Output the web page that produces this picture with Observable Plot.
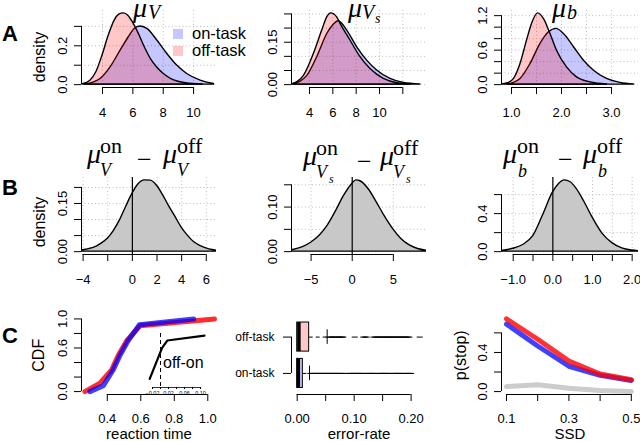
<!DOCTYPE html>
<html><head><meta charset="utf-8">
<script src="https://cdn.jsdelivr.net/npm/d3@7"></script>
<script src="https://cdn.jsdelivr.net/npm/@observablehq/plot@0.6"></script>
<style>
body{margin:0;background:#fff;}
#fig{position:relative;width:640px;height:441px;overflow:hidden;background:#fff;}
.panel{position:absolute;}
.ov{position:absolute;left:0;top:0;pointer-events:none;}
</style></head><body><div id="fig"></div>
<script>
const FONT = "'Liberation Sans', Arial, Helvetica, sans-serif";

// ---------- Row A: posterior densities ----------
const muV_on_x  = [2.85, 3.4, 3.87, 4.53, 5.19, 5.73, 6.06, 6.46, 6.95, 7.61, 8.27, 8.92, 9.58, 10.46, 11.34];
const muV_on_y  = [0.001, 0.01, 0.029, 0.089, 0.175, 0.244, 0.282, 0.299, 0.287, 0.227, 0.158, 0.098, 0.055, 0.021, 0.004];
const muV_off_x = [2.7, 3.2, 3.6, 4.0, 4.4, 4.8, 5.1, 5.4, 5.7, 6.0, 6.4, 6.8, 7.2, 7.6, 8.0, 8.5, 9.0, 9.5, 10.0, 10.6];
const muV_off_y = [0.002, 0.02, 0.065, 0.15, 0.25, 0.33, 0.36, 0.367, 0.355, 0.32, 0.26, 0.19, 0.13, 0.088, 0.057, 0.03, 0.015, 0.007, 0.003, 0.001];

const muVs_on_x  = [2.65, 3.2, 3.8, 4.66, 5.52, 6.08, 6.51, 7.23, 8.09, 8.94, 9.8, 10.94, 12.08, 13.5];
const muVs_on_y  = [0.002, 0.01, 0.03, 0.097, 0.179, 0.212, 0.224, 0.191, 0.132, 0.085, 0.05, 0.02, 0.006, 0.001];
const muVs_off_x = [2.52, 3.0, 3.51, 4.37, 5.09, 5.52, 5.86, 6.37, 6.66, 7.51, 8.37, 9.23, 10.37, 11.51, 12.65];
const muVs_off_y = [0.002, 0.01, 0.03, 0.108, 0.191, 0.238, 0.252, 0.238, 0.215, 0.156, 0.097, 0.055, 0.02, 0.005, 0.001];

const mub_on_x  = [0.91, 1.05, 1.18, 1.38, 1.58, 1.75, 1.9, 2.05, 2.25, 2.45, 2.65, 2.91, 3.18, 3.45];
const mub_on_y  = [0.005, 0.03, 0.099, 0.36, 0.71, 0.91, 0.97, 0.88, 0.65, 0.417, 0.243, 0.099, 0.03, 0.005];
const mub_off_x = [0.81, 0.95, 1.05, 1.18, 1.31, 1.41, 1.53, 1.65, 1.78, 1.91, 2.11, 2.31, 2.58, 2.91];
const mub_off_y = [0.005, 0.03, 0.099, 0.36, 0.765, 1.055, 1.24, 1.14, 0.88, 0.59, 0.3, 0.127, 0.04, 0.005];

// ---------- Row B: posterior of differences ----------
const dV_x  = [-4.1, -3.5, -3, -2.5, -2, -1.5, -1, -0.5, 0, 0.5, 1, 1.5, 2, 2.5, 3, 3.5, 4, 4.5, 5, 5.5, 6, 6.5, 6.9];
const dV_y  = [0.004, 0.008, 0.014, 0.025, 0.04, 0.065, 0.098, 0.14, 0.18, 0.21, 0.222, 0.221, 0.205, 0.175, 0.14, 0.108, 0.075, 0.05, 0.03, 0.018, 0.01, 0.005, 0.003];
const dVs_x = [-7.3, -6, -5, -4, -3, -2, -1, 0, 0.5, 1, 2, 3, 4, 5, 6, 7, 8, 9.1];
const dVs_y = [0.003, 0.01, 0.02, 0.035, 0.058, 0.09, 0.125, 0.152, 0.16, 0.158, 0.14, 0.11, 0.078, 0.05, 0.028, 0.014, 0.006, 0.002];
const db_x  = [-1.3, -1.0, -0.75, -0.5, -0.25, 0, 0.15, 0.3, 0.45, 0.6, 0.8, 1.0, 1.25, 1.5, 1.75, 2.0, 2.2];
const db_y  = [0.008, 0.03, 0.07, 0.16, 0.38, 0.62, 0.71, 0.75, 0.73, 0.66, 0.52, 0.36, 0.19, 0.09, 0.035, 0.012, 0.004];

// ---------- Row C ----------
const cdf_off_x = [0.266, 0.356, 0.426, 0.466, 0.516, 0.596, 1.04];
const cdf_off_y = [0, 0.116, 0.3, 0.5, 0.7, 0.906, 1.0];
const cdf_on_x  = [0.296, 0.376, 0.436, 0.476, 0.524, 0.592, 0.916];
const cdf_on_y  = [0, 0.08, 0.3, 0.5, 0.7, 0.92, 1.0];
const inset_x = [-0.027, 0.004, 0.017, 0.11];
const inset_y = [0.16, 0.735, 0.87, 0.96];

const box_groups = ["on-task", "off-task"];
const box_pos  = [1, 2];
const box_q1   = [0, 0];
const box_med  = [0.002, 0.003];
const box_q3   = [0.0099, 0.021];
const box_hi   = [0.0216, 0.0526];
const out_on  = [0.023,0.026,0.029,0.032,0.035,0.038,0.041,0.044,0.047,0.05,0.053,0.056,0.059,0.062,0.065,0.068,0.071,0.074,0.077,0.08,
                 0.086,0.092,0.095,0.098,0.101,0.104,0.107,0.11,0.113,0.116,0.122,0.125,0.128,0.131,0.134,0.137,0.143,0.146,0.149,
                 0.152,0.155,0.158,0.161,0.167,0.17,0.173,0.176,0.179,0.182,0.185,0.191,0.194,0.197,0.2];
const out_off = [0.055,0.058,0.061,0.064,0.067,0.07,0.073,0.076,0.079,0.081,0.101,0.116,0.119,0.122,0.134,0.137,0.14,0.143,0.146,
                 0.149,0.152,0.155,0.158,0.161,0.164,0.167,0.17,0.173,0.176,0.179,0.182,0.185,0.188,0.191,0.194,0.197,0.215];

const ssd        = [0.1, 0.2, 0.3, 0.4, 0.5];
const pstop_on   = [0.69, 0.466, 0.259, 0.166, 0.114];
const pstop_off  = [0.743, 0.535, 0.311, 0.179, 0.121];
const pstop_gray = [0.052, 0.069, 0.034, 0.01, 0.0];

// ---------- ticks ----------
const A1_xt = [4, 6, 8, 10],              A1_xl = [4, 6, 8, 10];
const A1_yt = [0, 0.1, 0.2, 0.3],         A1_yl = [0, 0.2];
const A2_xt = [4, 6, 8, 10, 12],          A2_xl = [4, 6, 8, 10];
const A2_yt = [0, 0.05, 0.1, 0.15, 0.2, 0.25], A2_yl = [0, 0.15];
const A3_xt = [1, 1.5, 2, 2.5, 3],        A3_xl = [1, 2, 3];
const A3_yt = [0, 0.2, 0.4, 0.6, 0.8, 1.0, 1.2], A3_yl = [0, 0.6, 1.2];
const B1_xt = [-4, -2, 0, 2, 4, 6],       B1_xl = [-4, 0, 2, 4, 6];
const B1_yt = [0, 0.05, 0.1, 0.15, 0.2],  B1_yl = [0, 0.15];
const B2_xt = [-5, 0, 5],                 B2_xl = [-5, 0, 5];
const B2_yt = [0, 0.05, 0.1, 0.15],       B2_yl = [0, 0.1];
const B3_xt = [-1, -0.5, 0, 0.5, 1, 1.5, 2], B3_xl = [-1, 0, 1, 2];
const B3_yt = [0, 0.2, 0.4, 0.6],         B3_yl = [0, 0.4];
const C1_xt = [0.4, 0.6, 0.8, 1.0],       C1_xl = [0.4, 0.6, 0.8, 1.0];
const C1_yt = [0, 0.2, 0.4, 0.6, 0.8, 1.0], C1_yl = [0, 0.6, 1.0];
const CI_xt = [-0.02, 0, 0.02, 0.04, 0.06, 0.08, 0.1], CI_xl = [-0.02, 0.02, 0.06, 0.1];
const C2_xt = [0, 0.05, 0.1, 0.15, 0.2],  C2_xl = [0, 0.1, 0.2];
const C3_xt = [0.1, 0.2, 0.3, 0.4, 0.5],  C3_xl = [0.1, 0.3, 0.5];
const C3_yt = [0, 0.2, 0.4, 0.6],         C3_yl = [0, 0.4];

// ---------- helpers ----------
const zip = (xs, ys) => xs.map((x, i) => ({x, y: ys[i]}));
const rPad = (lo, hi) => { const r = hi - lo; return [lo - 0.04 * r, hi + 0.04 * r]; };
const fmt = n => d => (d < -1e-12 ? "\u2212" : "") + Math.abs(d).toFixed(n);
const only = (labels, f) => d => labels.some(l => Math.abs(l - d) < 1e-9) ? f(d) : "";
const fig = document.getElementById("fig");

const COLS = [{left: 0, width: 220, mL: 81, mR: 4}, {left: 220, width: 210, mL: 71, mR: 4}, {left: 430, width: 210, mL: 71, mR: 2}];
const ROWS = [{top: 0, height: 125, mT: 10, mB: 38, pad: 13}, {top: 125, height: 165, mT: 52, mB: 36, pad: 13}, {top: 290, height: 151, mT: 25.5, mB: 47, pad: 12}];

function grid(xt, yt) {
  const o = {stroke: "#bdbdbd", strokeOpacity: 1, strokeDasharray: "1,2.5", strokeWidth: 1};
  return [Plot.gridX({ticks: xt, ...o}), Plot.gridY({ticks: yt, ...o})];
}
function axes(row, xDom, yDom, xt, xl, xd, yt, yl, yd) {
  const m = [
    Plot.ruleY([yDom[0]], {x1: () => d3.min(xt), x2: () => d3.max(xt), stroke: "black"}),
    Plot.axisX({ticks: xt, tickSize: 7, tickPadding: ROWS[row].pad, tickFormat: only(xl, fmt(xd)), label: null, fontSize: 13})
  ];
  if (yt) {
    m.push(Plot.ruleX([xDom[0]], {y1: () => d3.min(yt), y2: () => d3.max(yt), stroke: "black"}));
    m.push(Plot.axisY({ticks: yt, tickSize: 7, tickPadding: 8, tickRotate: -90, tickFormat: only(yl, fmt(yd)), label: null, fontSize: 13}));
  }
  return m;
}
function place(col, row, xDom, yDom, marks) {
  const c = COLS[col], r = ROWS[row];
  const p = Plot.plot({
    width: c.width, height: r.height,
    marginLeft: c.mL, marginRight: c.mR, marginTop: r.mT, marginBottom: r.mB,
    x: {domain: xDom, axis: null}, y: {domain: yDom, axis: null},
    style: `background: transparent; overflow: visible; font-family: ${FONT}; font-size: 13px; color: black;`,
    marks
  });
  const div = document.createElement("div");
  div.className = "panel";
  div.style.left = c.left + "px"; div.style.top = r.top + "px";
  div.style.width = c.width + "px"; div.style.height = r.height + "px";
  div.appendChild(p); fig.appendChild(div);
}
const yTitle = (t, dx = -42, dy = 0) => Plot.text([t], {frameAnchor: "left", dx, dy, rotate: -90, textAnchor: "middle", lineAnchor: "middle", fontSize: 16});
const xTitle = t => Plot.text([t], {frameAnchor: "bottom", dy: 40, lineAnchor: "middle", fontSize: 15});

const BLUE_FILL = "#0000ff", RED_FILL = "#ff0000", FOP = 0.22;
function densityPanel(col, onX, onY, offX, offY, xDom, xt, xl, xd, yt, yl, yd, title) {
  const on = zip(onX, onY), off = zip(offX, offY);
  const yDom = rPad(0, d3.max([...onY, ...offY]));
  const area = (d, fill) => Plot.areaY(d, {x: "x", y: "y", fill, fillOpacity: FOP, stroke: "black", strokeWidth: 1.4, curve: "monotone-x", clip: true});
  const marks = [...grid(xt, yt), area(on, BLUE_FILL), area(off, RED_FILL), ...axes(0, xDom, yDom, xt, xl, xd, yt, yl, yd)];
  if (title) marks.push(yTitle(title, -42, 8));
  place(col, 0, xDom, yDom, marks);
}
function diffPanel(col, xs, ys, xDom, xt, xl, xd, yt, yl, yd, title) {
  const d = zip(xs, ys);
  const yDom = rPad(0, d3.max(ys));
  const marks = [...grid(xt, yt),
    Plot.areaY(d, {x: "x", y: "y", fill: "#c8c8c8", stroke: "black", strokeWidth: 1.4, curve: "monotone-x", clip: true}),
    Plot.ruleX([0], {stroke: "black", strokeWidth: 1.2}),
    ...axes(1, xDom, yDom, xt, xl, xd, yt, yl, yd)];
  if (title) marks.push(yTitle(title, -42, 6));
  place(col, 1, xDom, yDom, marks);
}

// Row A
densityPanel(0, muV_on_x, muV_on_y, muV_off_x, muV_off_y, [2.616, 11.51], A1_xt, A1_xl, 0, A1_yt, A1_yl, 1, "density");
densityPanel(1, muVs_on_x, muVs_on_y, muVs_off_x, muVs_off_y, [2.457, 14.03], A2_xt, A2_xl, 0, A2_yt, A2_yl, 2);
densityPanel(2, mub_on_x, mub_on_y, mub_off_x, mub_off_y, [0.8, 3.54], A3_xt, A3_xl, 1, A3_yt, A3_yl, 1);
// Row B
diffPanel(0, dV_x, dV_y, [-4.13, 6.83], B1_xt, B1_xl, 0, B1_yt, B1_yl, 2, "density");
diffPanel(1, dVs_x, dVs_y, [-7.38, 9.03], B2_xt, B2_xl, 0, B2_yt, B2_yl, 2);
diffPanel(2, db_x, db_y, [-1.295, 2.16], B3_xt, B3_xl, 1, B3_yt, B3_yl, 1);

// Row C1: CDFs
{
  const xDom = [0.246, 1.052], yDom = [-0.04, 1.04];
  place(0, 2, xDom, yDom, [
    Plot.line(zip(cdf_off_x, cdf_off_y), {x: "x", y: "y", stroke: "#ff0000", strokeOpacity: 0.82, strokeWidth: 5, strokeLinecap: "round"}),
    Plot.line(zip(cdf_on_x, cdf_on_y), {x: "x", y: "y", stroke: "#0000ff", strokeOpacity: 0.75, strokeWidth: 5, strokeLinecap: "round"}),
    ...axes(2, xDom, yDom, C1_xt, C1_xl, 1, C1_yt, C1_yl, 1),
    yTitle("CDF", -43), xTitle("reaction time")
  ]);
  // inset
  const ixDom = [-0.03, 0.1175], iyDom = [0, 1];
  const ins = Plot.plot({
    width: 80, height: 75, marginLeft: 8, marginRight: 13, marginTop: 11, marginBottom: 10,
    x: {domain: ixDom, axis: null}, y: {domain: iyDom, axis: null},
    style: `background: transparent; overflow: visible; font-family: ${FONT}; font-size: 6px; color: black;`,
    marks: [
      Plot.ruleX([0], {strokeDasharray: "4,3", stroke: "black"}),
      Plot.line(zip(inset_x, inset_y), {x: "x", y: "y", stroke: "black", strokeWidth: 2.2}),
      Plot.ruleY([iyDom[0]], {x1: () => d3.min(CI_xt), x2: () => d3.max(CI_xt), stroke: "black", strokeWidth: 0.8}),
      Plot.axisX({ticks: CI_xt, tickSize: 2, tickPadding: 1.5, tickFormat: only(CI_xl, fmt(2)), label: null, fontSize: 5.5})
    ]
  });
  const div = document.createElement("div");
  div.className = "panel"; div.style.left = "140px"; div.style.top = "322px";
  div.appendChild(ins); fig.appendChild(div);
}

// Row C2: error-rate boxplots
{
  const xDom = [-0.01, 0.227], yDom = [0.42, 2.58];
  const rows = box_groups.map((g, i) => ({g, pos: box_pos[i], q1: box_q1[i], med: box_med[i], q3: box_q3[i], hi: box_hi[i]}));
  const outs = [...out_on.map(v => ({v, pos: box_pos[0]})), ...out_off.map(v => ({v, pos: box_pos[1]}))];
  const dash = {draw(ctx, size) { const w = Math.sqrt(size / Math.PI); ctx.moveTo(-w, 0); ctx.lineTo(w, 0); }};
  const fills = ["rgba(0,0,255,0.22)", "rgba(255,0,0,0.22)"];
  place(1, 2, xDom, yDom, [
    Plot.ruleY(rows, {y: "pos", x1: "q3", x2: "hi", stroke: "black", strokeDasharray: "4,3"}),
    Plot.ruleX(rows, {x: "hi", y1: d => d.pos - 0.2, y2: d => d.pos + 0.2, stroke: "black"}),
    ...rows.map((r, i) => Plot.rect([r], {x1: "q1", x2: "q3", y1: d => d.pos - 0.4, y2: d => d.pos + 0.4, fill: fills[i], stroke: "black"})),
    Plot.ruleX(rows, {x: "med", y1: d => d.pos - 0.4, y2: d => d.pos + 0.4, stroke: "black", strokeWidth: 3.5}),
    Plot.dot(outs, {x: "v", y: "pos", symbol: dash, r: 3, fill: "none", stroke: "black", strokeWidth: 1}),
    Plot.ruleY([yDom[0]], {x1: () => d3.min(C2_xt), x2: () => d3.max(C2_xt), stroke: "black"}),
    Plot.axisX({ticks: C2_xt, tickSize: 7, tickPadding: ROWS[2].pad, tickFormat: only(C2_xl, fmt(2)), label: null, fontSize: 13}),
    Plot.ruleX([xDom[0]], {y1: () => d3.min(box_pos), y2: () => d3.max(box_pos), stroke: "black"}),
    Plot.axisY({ticks: box_pos, tickSize: 8, tickPadding: 9, tickFormat: d => box_groups[box_pos.indexOf(d)], label: null, fontSize: 12}),
    xTitle("error-rate")
  ]);
}

// Row C3: p(stop) vs SSD
{
  const xDom = [0.084, 0.523];
  const yDom = rPad(0, d3.max(pstop_off));
  place(2, 2, xDom, yDom, [
    Plot.line(zip(ssd, pstop_gray), {x: "x", y: "y", stroke: "#cccccc", strokeWidth: 5}),
    Plot.line(zip(ssd, pstop_on), {x: "x", y: "y", stroke: "#0000ff", strokeOpacity: 0.75, strokeWidth: 5}),
    Plot.line(zip(ssd, pstop_off), {x: "x", y: "y", stroke: "#ff0000", strokeOpacity: 0.8, strokeWidth: 5}),
    ...axes(2, xDom, yDom, C3_xt, C3_xl, 1, C3_yt, C3_yl, 1),
    yTitle("p(stop)", -41), xTitle("SSD")
  ]);
}

// ---------- overlay: panel letters, math titles, legend ----------
const SERIF = "'Liberation Serif','Times New Roman',serif";
fig.insertAdjacentHTML("beforeend", `
<svg class="ov" width="640" height="441" xmlns="http://www.w3.org/2000/svg">
  <g font-family="${FONT}" font-weight="bold" font-size="22" fill="black">
    <text x="2" y="41">A</text><text x="2" y="195">B</text><text x="2" y="343">C</text>
  </g>
  <g font-family="${SERIF}" fill="black">
    <text x="133" y="17" font-size="28" font-style="italic">μ</text>
    <text x="148" y="19" font-size="20" font-style="italic">V</text>
    <text x="348" y="17" font-size="28" font-style="italic">μ</text>
    <text x="362" y="19" font-size="20" font-style="italic">V</text>
    <text x="375" y="23" font-size="14" font-style="italic">s</text>
    <text x="552" y="17" font-size="28" font-style="italic">μ</text>
    <text x="567" y="19" font-size="20" font-style="italic">b</text>

    <text x="87" y="163" font-size="28" font-style="italic">μ</text>
    <text x="100" y="153" font-size="22">on</text>
    <text x="100" y="176" font-size="18" font-style="italic">V</text>
    <text x="137" y="168" font-size="26">−</text>
    <text x="163" y="163" font-size="28" font-style="italic">μ</text>
    <text x="177" y="153" font-size="22">off</text>
    <text x="177" y="176" font-size="18" font-style="italic">V</text>

    <text x="303" y="165" font-size="28" font-style="italic">μ</text>
    <text x="316" y="155" font-size="22">on</text>
    <text x="316" y="178" font-size="18" font-style="italic">V</text>
    <text x="329" y="183" font-size="12" font-style="italic">s</text>
    <text x="357" y="170" font-size="26">−</text>
    <text x="380" y="165" font-size="28" font-style="italic">μ</text>
    <text x="393" y="155" font-size="22">off</text>
    <text x="393" y="178" font-size="18" font-style="italic">V</text>
    <text x="406" y="183" font-size="12" font-style="italic">s</text>

    <text x="503" y="163" font-size="28" font-style="italic">μ</text>
    <text x="517" y="153" font-size="22">on</text>
    <text x="518" y="177" font-size="18" font-style="italic">b</text>
    <text x="558" y="168" font-size="26">−</text>
    <text x="583" y="163" font-size="28" font-style="italic">μ</text>
    <text x="597" y="153" font-size="22">off</text>
    <text x="598" y="177" font-size="18" font-style="italic">b</text>
  </g>
  <g font-family="${FONT}" font-size="16.5" fill="black">
    <rect x="173" y="29" width="10" height="10" fill="${BLUE_FILL}" fill-opacity="${FOP}"/>
    <rect x="173" y="46" width="10" height="10" fill="${RED_FILL}" fill-opacity="${FOP}"/>
    <text x="192" y="39">on-task</text>
    <text x="192" y="56">off-task</text>
  </g>
  <text x="163" y="368" font-family="${FONT}" font-size="16" fill="black">off-on</text>
</svg>`);
</script></body></html>
